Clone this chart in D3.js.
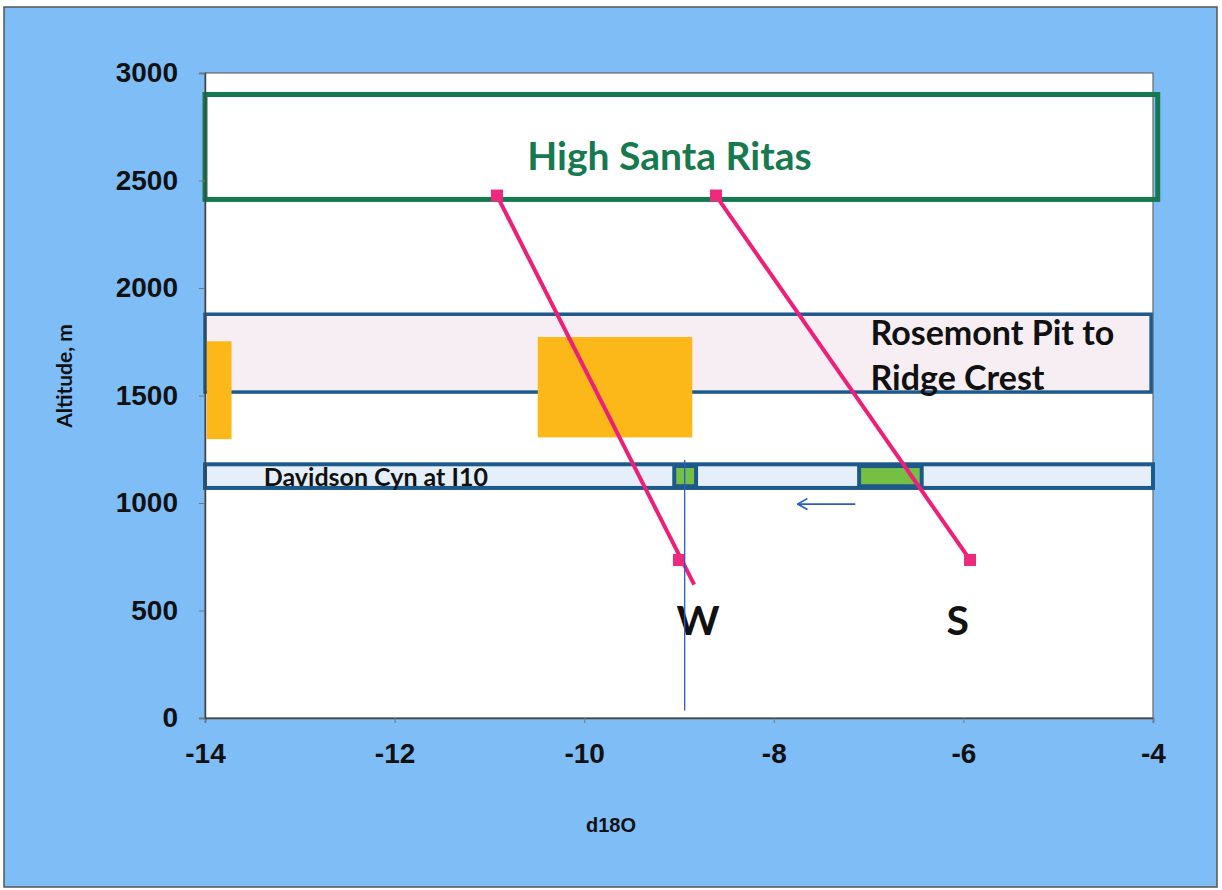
<!DOCTYPE html>
<html>
<head>
<meta charset="utf-8">
<script src="https://cdn.jsdelivr.net/npm/d3@7"></script>
<style>
  body { margin: 0; background: #ffffff; }
</style>
</head>
<body>
<div id="chart"></div>
<script>
// axis ticks
var xTicks = [-14, -12, -10, -8, -6, -4];
var yTicks = [0, 500, 1000, 1500, 2000, 2500, 3000];

// zone boxes (d18O range, altitude range)
var zoneNames = ["High Santa Ritas", "Rosemont Pit to Ridge Crest", "Davidson Cyn at I10"];
var zoneX0 = [-14, -14, -14];
var zoneX1 = [-3.95, -4.02, -4.0];
var zoneY0 = [2412, 1516, 1070];
var zoneY1 = [2900, 1878, 1180];

// orange sample blocks
var orangeX0 = [-13.98, -10.49];
var orangeX1 = [-13.72, -8.86];
var orangeY0 = [1297, 1305];
var orangeY1 = [1752, 1772];

// green blocks in Davidson Cyn
var greenX0 = [-9.05, -7.1];
var greenX1 = [-8.82, -6.44];
var greenY0 = [1078, 1078];
var greenY1 = [1172, 1172];

// W and S lines
var seriesNames = ["W", "S"];
var seriesX = [[-10.92, -9.0], [-8.61, -5.93]];
var seriesY = [[2430, 735], [2430, 735]];
var wTrendEnd = [-8.84, 620];
var labelX = [-8.8, -6.06];
var labelY = [386, 386];

// blue marker line and arrow
var vLineX = -8.94;
var vLineY = [1200, 35];
var arrowX = [-7.14, -7.75];
var arrowY = 995;

function init() {

  var w = 1222;
  var h = 890;

  var left = 205, right = 1153, top = 73, bottom = 718;

  var svg = d3.select("#chart")
              .append("svg")
              .attr("width", w)
              .attr("height", h);

  svg.append("defs").append("marker")
     .attr("id", "arrowhead")
     .attr("viewBox", "0 0 12 12")
     .attr("refX", 11)
     .attr("refY", 6)
     .attr("markerWidth", 12)
     .attr("markerHeight", 12)
     .attr("markerUnits", "userSpaceOnUse")
     .attr("orient", "auto")
     .append("path")
     .attr("d", "M1,0.5 L11,6 L1,11.5")
     .attr("fill", "none")
     .attr("stroke", "#2a5cc8")
     .attr("stroke-width", 1.6);

  // background
  svg.append("rect")
     .attr("x", 4).attr("y", 7)
     .attr("width", w - 9).attr("height", h - 10)
     .attr("fill", "#7fbdf7")
     .attr("stroke", "#555")
     .attr("stroke-width", 1.5);

  var xScale = d3.scaleLinear().domain([-14, -4]).range([left, right]);
  var yScale = d3.scaleLinear().domain([0, 3000]).range([bottom, top]);

  svg.append("rect")
     .attr("x", left).attr("y", top)
     .attr("width", right - left).attr("height", bottom - top)
     .attr("fill", "#ffffff")
     .attr("stroke", "#666")
     .attr("stroke-width", 1.2);

  // zones
  var zoneFill = ["none", "#f7eef4", "#e5eff9"];
  var zoneStroke = ["#15794f", "#1d5a8a", "#1d5a8a"];
  var zoneWidth = [5, 3.5, 4];

  zoneNames.forEach(function(n, i) {
    svg.append("rect")
       .attr("x", xScale(zoneX0[i]))
       .attr("y", yScale(zoneY1[i]))
       .attr("width", xScale(zoneX1[i]) - xScale(zoneX0[i]))
       .attr("height", yScale(zoneY0[i]) - yScale(zoneY1[i]))
       .attr("fill", zoneFill[i])
       .attr("stroke", zoneStroke[i])
       .attr("stroke-width", zoneWidth[i]);
  });

  // orange blocks
  orangeX0.forEach(function(d, i) {
    svg.append("rect")
       .attr("x", xScale(orangeX0[i]))
       .attr("y", yScale(orangeY1[i]))
       .attr("width", xScale(orangeX1[i]) - xScale(orangeX0[i]))
       .attr("height", yScale(orangeY0[i]) - yScale(orangeY1[i]))
       .attr("fill", "#fbb818");
  });

  // green blocks
  greenX0.forEach(function(d, i) {
    svg.append("rect")
       .attr("x", xScale(greenX0[i]))
       .attr("y", yScale(greenY1[i]))
       .attr("width", xScale(greenX1[i]) - xScale(greenX0[i]))
       .attr("height", yScale(greenY0[i]) - yScale(greenY1[i]))
       .attr("fill", "#74bf44")
       .attr("stroke", "#1d5a8a")
       .attr("stroke-width", 4);
  });

  // zone labels
  var lato = "Lato, 'Open Sans', sans-serif";

  svg.append("text")
     .attr("x", xScale(-9.1))
     .attr("y", yScale(2549))
     .attr("text-anchor", "middle")
     .attr("font-family", lato)
     .attr("font-weight", "bold")
     .attr("font-size", 39)
     .attr("fill", "#177a4f")
     .text(zoneNames[0]);

  svg.append("text")
     .attr("x", xScale(-6.98))
     .attr("y", yScale(1735))
     .attr("font-family", lato)
     .attr("font-weight", "bold")
     .attr("font-size", 34)
     .attr("fill", "#111")
     .text("Rosemont Pit to");

  svg.append("text")
     .attr("x", xScale(-6.98))
     .attr("y", yScale(1526))
     .attr("font-family", lato)
     .attr("font-weight", "bold")
     .attr("font-size", 34)
     .attr("fill", "#111")
     .text("Ridge Crest");

  svg.append("text")
     .attr("x", xScale(-13.38))
     .attr("y", yScale(1080))
     .attr("font-family", lato)
     .attr("font-weight", "bold")
     .attr("font-size", 25)
     .attr("fill", "#111")
     .text(zoneNames[2]);

  // pink lines
  var line = d3.line()
               .x(function(d) { return xScale(d[0]); })
               .y(function(d) { return yScale(d[1]); });

  seriesNames.forEach(function(n, i) {
    var pts = seriesX[i].map(function(x, j) { return [x, seriesY[i][j]]; });
    var linePts = i === 0 ? [pts[0], wTrendEnd] : pts;

    svg.append("path")
       .datum(linePts)
       .attr("d", line)
       .attr("fill", "none")
       .attr("stroke", "#ee1f78")
       .attr("stroke-width", 4);

    svg.selectAll(".mark" + i)
       .data(pts)
       .enter()
       .append("rect")
       .attr("x", function(d) { return xScale(d[0]) - 6; })
       .attr("y", function(d) { return yScale(d[1]) - 6; })
       .attr("width", 12)
       .attr("height", 12)
       .attr("fill", "#ee2a7e");

    svg.append("text")
       .attr("x", xScale(labelX[i]))
       .attr("y", yScale(labelY[i]))
       .attr("text-anchor", "middle")
       .attr("font-family", lato)
       .attr("font-weight", "bold")
       .attr("font-size", 41)
       .attr("fill", "#111")
       .text(n);
  });

  // blue vertical line
  svg.append("line")
     .attr("x1", xScale(vLineX)).attr("y1", yScale(vLineY[0]))
     .attr("x2", xScale(vLineX)).attr("y2", yScale(vLineY[1]))
     .attr("stroke", "#2a5cc8")
     .attr("stroke-width", 1.3);

  // arrow
  svg.append("line")
     .attr("x1", xScale(arrowX[0])).attr("y1", yScale(arrowY))
     .attr("x2", xScale(arrowX[1])).attr("y2", yScale(arrowY))
     .attr("stroke", "#2a5cc8")
     .attr("stroke-width", 1.6)
     .attr("marker-end", "url(#arrowhead)");

  // axes
  var xAxis = d3.axisBottom(xScale)
                .tickValues(xTicks)
                .tickFormat(function(d) { return String(d); })
                .tickSize(5)
                .tickPadding(20);

  var gx = svg.append("g")
              .attr("transform", "translate(0," + bottom + ")")
              .call(xAxis);
  gx.select(".domain").attr("stroke", "#444").attr("stroke-width", 1.5);
  gx.selectAll(".tick line").attr("stroke", "#777");

  var yAxis = d3.axisLeft(yScale)
                .tickValues(yTicks)
                .tickFormat(function(d) { return String(d); })
                .tickSize(6)
                .tickPadding(21);

  var gy = svg.append("g")
              .attr("transform", "translate(" + left + ",0)")
              .call(yAxis);
  gy.select(".domain").attr("stroke", "#444").attr("stroke-width", 1.5);
  gy.selectAll(".tick line").attr("stroke", "#777");

  svg.selectAll(".tick text")
     .attr("font-family", "'Liberation Sans', Arial, sans-serif")
     .attr("font-weight", "bold")
     .attr("font-size", 28)
     .attr("fill", "#111");

  svg.append("text")
     .attr("x", 611)
     .attr("y", 832)
     .attr("text-anchor", "middle")
     .attr("font-family", "'Liberation Sans', Arial, sans-serif")
     .attr("font-weight", "bold")
     .attr("font-size", 20)
     .attr("fill", "#111")
     .text("d18O");

  svg.append("text")
     .attr("transform", "translate(72,376) rotate(-90)")
     .attr("text-anchor", "middle")
     .attr("font-family", lato)
     .attr("font-weight", "bold")
     .attr("font-size", 21)
     .attr("fill", "#111")
     .text("Altitude, m");
}

window.onload = init;
</script>
</body>
</html>
